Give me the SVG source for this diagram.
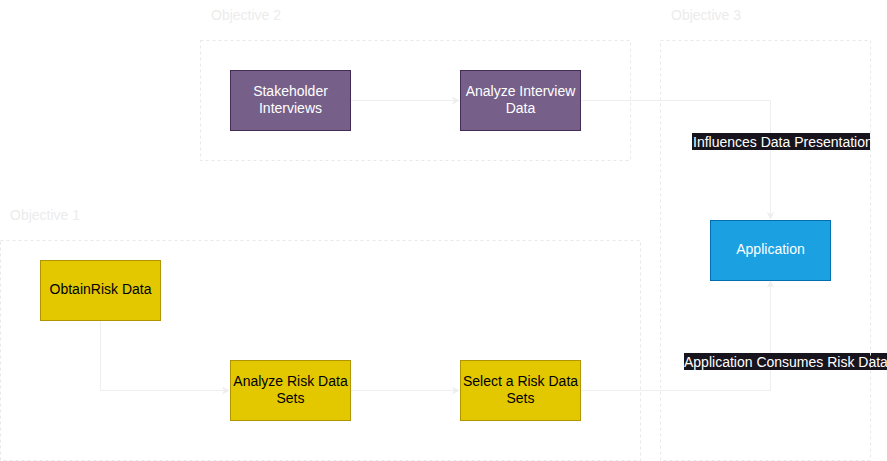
<svg xmlns="http://www.w3.org/2000/svg" width="887" height="461" viewBox="0 0 887 461">
<defs>
<style>
.grp{fill:none;stroke:#e8e8e8;stroke-width:1;stroke-dasharray:3 3}
.gl{font-family:"Liberation Sans",Arial,Helvetica,sans-serif;font-size:14px;fill:#ececec}
.t{font-family:"Liberation Sans",Arial,Helvetica,sans-serif;font-size:14px;text-anchor:middle}
.w{fill:#ffffff}
.b{fill:#000000}
.pur{fill:#76608a;stroke:#432d57;stroke-width:1}
.yel{fill:#e3c800;stroke:#b09500;stroke-width:1}
.blu{fill:#1ba1e2;stroke:#006eaf;stroke-width:1}
.edge{fill:none;stroke:#eeeeee;stroke-width:1}
.lbg{fill:#18141d}
.lt{font-family:"Liberation Sans",Arial,Helvetica,sans-serif;font-size:14px;fill:#ffffff}
</style>
<marker id="arr" viewBox="0 0 10 10" refX="9" refY="5" markerWidth="8" markerHeight="8" markerUnits="userSpaceOnUse" orient="auto">
<path d="M0,0 L10,5 L0,10 L3,5 Z" fill="#eeeeee"/>
</marker>
</defs>
<rect width="887" height="461" fill="#ffffff"/>

<g id="connectors">
<path class="edge" d="M350.5,100.5 H459" marker-end="url(#arr)"/>
<path class="edge" d="M580.5,100.5 H770.5 V219" marker-end="url(#arr)"/>
<path class="edge" d="M100.5,320.5 V390.5 H229" marker-end="url(#arr)"/>
<path class="edge" d="M350.5,390.5 H459" marker-end="url(#arr)"/>
<path class="edge" d="M580.5,390.5 H770.5 V281" marker-end="url(#arr)"/>
<g id="label-influences">
<rect class="lbg" x="692" y="133" width="178" height="17"/>
<text class="lt" x="693" y="146.5">Influences Data Presentation</text>
</g>
<g id="label-consumes">
<rect class="lbg" x="684" y="353" width="203" height="17"/>
<text class="lt" x="684" y="366.5">Application Consumes Risk Data</text>
</g>
</g>

<g id="objective2">
<rect class="grp" x="200.5" y="40.5" width="430" height="120"/>
<text class="gl" x="211" y="19.5">Objective 2</text>
</g>
<g id="objective3">
<rect class="grp" x="660.5" y="40.5" width="210" height="420"/>
<text class="gl" x="671" y="19.5">Objective 3</text>
</g>
<g id="objective1">
<rect class="grp" x="0.5" y="240.5" width="640" height="220"/>
<text class="gl" x="10" y="219.5">Objective 1</text>
</g>

<g id="stakeholder-interviews">
<rect class="pur" x="230.5" y="70.5" width="120" height="60"/>
<text class="t w" x="290.5" y="96">Stakeholder</text>
<text class="t w" x="290.5" y="112.5">Interviews</text>
</g>
<g id="analyze-interview-data">
<rect class="pur" x="460.5" y="70.5" width="120" height="60"/>
<text class="t w" x="520.5" y="96">Analyze Interview</text>
<text class="t w" x="520.5" y="112.5">Data</text>
</g>
<g id="application">
<rect class="blu" x="710.5" y="220.5" width="120" height="60"/>
<text class="t w" x="770.5" y="254">Application</text>
</g>
<g id="obtain-risk-data">
<rect class="yel" x="40.5" y="260.5" width="120" height="60"/>
<text class="t b" x="100.5" y="294">ObtainRisk Data</text>
</g>
<g id="analyze-risk-data-sets">
<rect class="yel" x="230.5" y="360.5" width="120" height="60"/>
<text class="t b" x="290.5" y="386">Analyze Risk Data</text>
<text class="t b" x="290.5" y="402.5">Sets</text>
</g>
<g id="select-risk-data-sets">
<rect class="yel" x="460.5" y="360.5" width="120" height="60"/>
<text class="t b" x="520.5" y="386">Select a Risk Data</text>
<text class="t b" x="520.5" y="402.5">Sets</text>
</g>
</svg>
